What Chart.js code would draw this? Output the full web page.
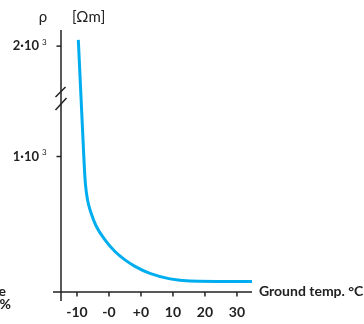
<html>
<head>
<title>Resistivity vs ground temperature</title>
<style>
 body { margin: 0; background: #fff; }
</style>
</head>
<body>
<script src="https://cdn.jsdelivr.net/npm/chart.js@4/dist/chart.umd.min.js"></script>

<canvas id="myChart" width="364" height="324"></canvas>

<script type="text/javascript">
// x positions are tick slots, labels as printed under the axis
var xLabels = ["-10", "-0", "+0", "10", "20", "30"];
var xTicks = [0, 1, 2, 3, 4, 5];
// resistivity curve, y in axis units (scale above the break is compressed)
var curveX = [0.041, 0.125, 0.203, 0.234, 0.266, 0.328, 0.4375, 0.594, 0.875, 1.1875, 1.5, 1.8125, 2.28, 2.906, 3.53, 5.47];
var curveY = [1861, 1440, 1049, 902, 791, 681, 585, 489, 385, 299, 237, 189, 137, 97, 82, 78];
var yTicks = [1000, 1815];
var yLabels = ["1·10", "2·10"];
var yExp = "3";

var lineBlue = "rgb(0,174,239)";
var ink = "#222";

var points = curveX.map(function (x, i) { return {x: x, y: curveY[i]}; });

var axesPlugin = {
  id: "axesPlugin",
  afterDraw: function (chart) {
    var ctx = chart.ctx;
    var xs = chart.scales.x, ys = chart.scales.y;
    var x0 = xs.left, yb = ys.bottom;
    ctx.save();
    ctx.strokeStyle = ink;
    ctx.fillStyle = ink;
    ctx.lineWidth = 1.5;
    // axes
    ctx.beginPath();
    ctx.moveTo(x0, ys.top);
    ctx.lineTo(x0, yb + 9);
    ctx.moveTo(x0 - 8, yb);
    ctx.lineTo(xs.right, yb);
    ctx.stroke();
    // x ticks
    ctx.font = "bold 14px Lato";
    ctx.textAlign = "center";
    ctx.textBaseline = "middle";
    xTicks.forEach(function (v, i) {
      var px = xs.getPixelForValue(v);
      ctx.beginPath();
      ctx.moveTo(px, yb);
      ctx.lineTo(px, yb + 4.5);
      ctx.stroke();
      ctx.fillText(xLabels[i], px, yb + 20);
    });
    // y ticks
    yTicks.forEach(function (v, i) {
      var py = ys.getPixelForValue(v);
      ctx.beginPath();
      ctx.moveTo(x0 - 4.5, py);
      ctx.lineTo(x0, py);
      ctx.stroke();
      ctx.font = "bold 13px Lato";
      ctx.textAlign = "right";
      ctx.fillText(yLabels[i], x0 - 22, py);
      ctx.font = "8px Lato";
      ctx.textAlign = "left";
      ctx.fillText(yExp, x0 - 19, py - 4);
    });
    // axis break
    ctx.beginPath();
    ctx.moveTo(x0 - 5.5, 97);
    ctx.lineTo(x0 + 4.5, 87);
    ctx.moveTo(x0 - 5.5, 110);
    ctx.lineTo(x0 + 5.5, 98);
    ctx.stroke();
    // titles
    ctx.font = "15px Lato";
    ctx.textAlign = "center";
    ctx.fillText("ρ", 43, 17);
    ctx.textAlign = "left";
    ctx.fillText("[Ωm]", 72, 17);
    ctx.font = "bold 14px Lato";
    ctx.fillText("Ground temp. °C", 259, 291);
    ctx.textAlign = "right";
    ctx.fillText("Moisture", 6, 291);
    ctx.fillText("20 %", 11, 304);
    ctx.restore();
  }
};

var chart = new Chart(document.getElementById("myChart").getContext("2d"), {
  type: "line",
  data: {
    datasets: [{
      data: points,
      borderColor: lineBlue,
      borderWidth: 3,
      pointRadius: 0,
      fill: false,
      cubicInterpolationMode: "monotone",
      clip: false
    }]
  },
  options: {
    responsive: false,
    animation: false,
    layout: {padding: {left: 61, top: 30, right: 112, bottom: 32}},
    plugins: {legend: {display: false}, tooltip: {enabled: false}},
    scales: {
      x: {type: "linear", min: -0.5, max: 5.47, display: false},
      y: {type: "linear", min: 0, max: 1934, display: false}
    }
  },
  plugins: [axesPlugin]
});
</script>
</body>
</html>
